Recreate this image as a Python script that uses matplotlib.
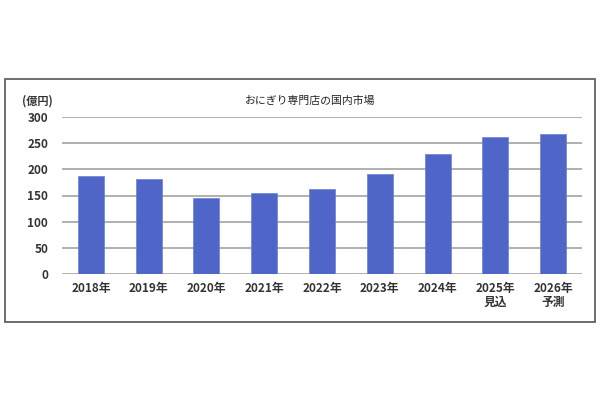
import matplotlib
matplotlib.use("Agg")
import matplotlib.pyplot as plt
from matplotlib.patches import Rectangle

plt.rcParams['font.family'] = ['Noto Sans CJK JP', 'DejaVu Sans']

categories = ["2018年", "2019年", "2020年", "2021年", "2022年", "2023年", "2024年", "2025年\n見込", "2026年\n予測"]
values = [187, 181, 145, 154, 162, 192, 229, 261, 267]
yticks = [0, 50, 100, 150, 200, 250, 300]
title = "おにぎり専門店の国内市場"
unit = "(億円)"

fig = plt.figure(figsize=(6, 4), dpi=100)
fig.patch.set_facecolor("white")

# outer frame
fig.add_artist(Rectangle((5/600, 1-322/400), 590/600, 243/400, transform=fig.transFigure,
                         fill=False, edgecolor="#555555", linewidth=1.2))

ax = fig.add_axes([62/600, 1-274/400, 520/600, 157/400])
x = list(range(len(categories)))
ax.bar(x, values, width=0.45, color="#4F66C8", edgecolor="#6A80D8", linewidth=0.5, zorder=3)
ax.set_xlim(-0.5, len(categories)-0.5)
ax.set_ylim(0, 300)
ax.set_yticks(yticks)
ax.set_xticks(x)
ax.set_xticklabels(categories, fontsize=8.5, fontweight="bold", color="#333333", linespacing=1.1, va="top")
ax.set_yticklabels([str(v) for v in yticks], fontsize=8.5, fontweight="bold", color="#333333")
ax.tick_params(axis="both", length=0)
ax.tick_params(axis="y", pad=10)
ax.tick_params(axis="x", pad=6)
ax.grid(axis="y", color="#AAAAAA", linewidth=1.3, zorder=0)
for s in ax.spines.values():
    s.set_visible(False)

fig.text(310/600, 1-101/400, title, ha="center", va="center", fontsize=7.8, color="#222222")
fig.text(22/600, 1-101/400, unit, ha="left", va="center", fontsize=8, fontweight="bold", color="#333333")

fig.savefig("out.png", dpi=100)
